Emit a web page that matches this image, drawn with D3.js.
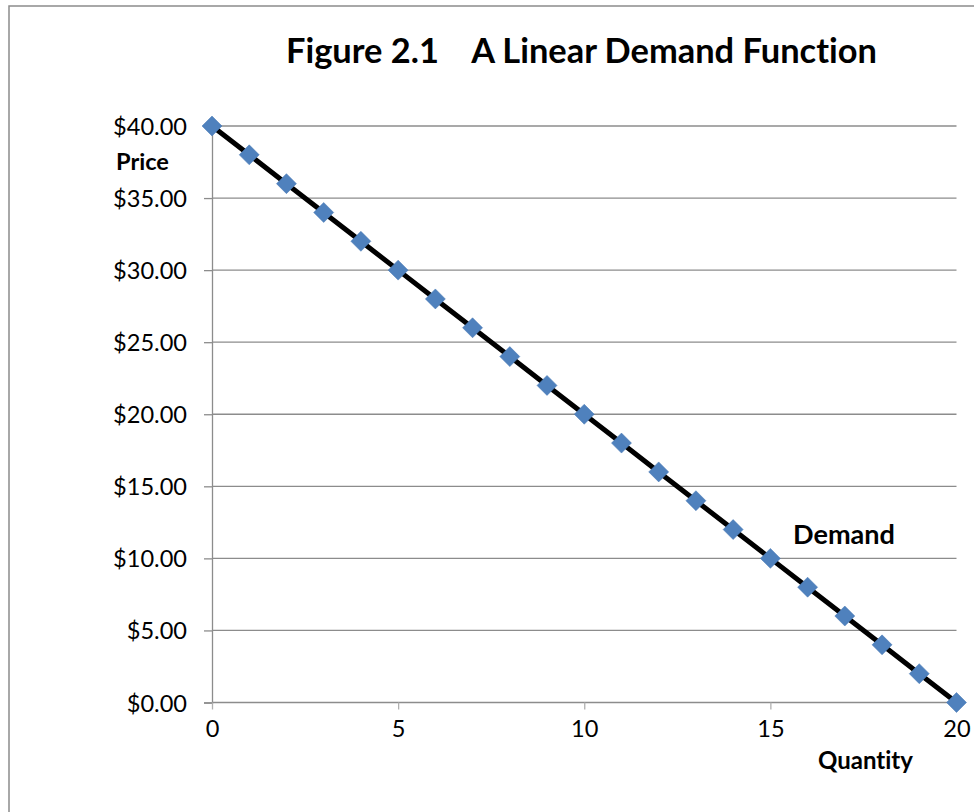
<!DOCTYPE html>
<html><head><meta charset="utf-8">
<script src="https://d3js.org/d3.v7.min.js"></script>
<style>html,body{margin:0;padding:0;background:#fff;} svg{display:block;} text{font-family:Lato,"Open Sans",sans-serif;font-variant-ligatures:none;font-feature-settings:"liga" 0,"clig" 0,"dlig" 0;}</style>
</head><body>
<script>
const quantity = [0,1,2,3,4,5,6,7,8,9,10,11,12,13,14,15,16,17,18,19,20];
const price = [40,38,36,34,32,30,28,26,24,22,20,18,16,14,12,10,8,6,4,2,0];
const xTicks = [0,5,10,15,20];
const yTicks = [0,5,10,15,20,25,30,35,40];
const titleText = "Figure 2.1    A Linear Demand Function";

const W = 974, H = 812;
const FONT = "Lato";
const svg = d3.select("body").append("svg").attr("width", W).attr("height", H);

svg.append("rect").attr("x", 9).attr("y", 6).attr("width", 980).attr("height", 820)
  .attr("fill", "#fff").attr("stroke", "#8c8c8c").attr("stroke-width", 1.5);

const x = d3.scaleLinear().domain([0, 20]).range([212, 956.5]);
const y = d3.scaleLinear().domain([0, 40]).range([702.5, 126]);

svg.append("g").selectAll("line").data(yTicks).join("line")
  .attr("x1", x(0)).attr("x2", x(20)).attr("y1", d => y(d)).attr("y2", d => y(d))
  .attr("stroke", "#8c8c8c").attr("stroke-width", 1.3);

function fitSize(txt, weight, target) {
  const t = svg.append("text").attr("font-family", FONT).attr("font-weight", weight)
    .attr("font-size", 20).style("white-space", "pre").text(txt);
  const w = t.node().getComputedTextLength();
  t.remove();
  return 20 * target / w;
}
const tickFs = fitSize("$40.00", "normal", 74);

const yAxis = d3.axisLeft(y).tickValues(yTicks).tickSize(8).tickPadding(17)
  .tickFormat(d => "$" + d3.format(".2f")(d));
const gy = svg.append("g").attr("transform", `translate(${x(0)},0)`).call(yAxis);
gy.select(".domain").attr("stroke", "#8c8c8c").attr("stroke-width", 1.3);
gy.selectAll(".tick line").attr("stroke", "#8c8c8c").attr("stroke-width", 1.3);
gy.selectAll(".tick text").attr("font-family", FONT).attr("font-size", tickFs).attr("fill", "#000").attr("dy", "0.36em");

const xAxis = d3.axisBottom(x).tickValues(xTicks).tickSize(7).tickPadding(19).tickFormat(d3.format("d"));
const gx = svg.append("g").attr("transform", `translate(0,${y(0)})`).call(xAxis);
gx.select(".domain").remove();
gx.selectAll(".tick line").attr("stroke", "#b0b0b0").attr("stroke-width", 1.3);
gx.selectAll(".tick text").attr("font-family", FONT).attr("font-size", tickFs).attr("fill", "#000").attr("dy", "0.36em");

const line = d3.line().x((d, i) => x(quantity[i])).y(d => y(d));
svg.append("path").datum(price).attr("d", line).attr("fill", "none")
  .attr("stroke", "#000").attr("stroke-width", 5);

const sym = d3.symbol().type(d3.symbolSquare).size(200);
svg.append("g").selectAll("path").data(price).join("path")
  .attr("d", sym)
  .attr("transform", (d, i) => `translate(${x(quantity[i])},${y(d)}) rotate(45)`)
  .attr("fill", "#4f81bd").attr("stroke", "#4a7ab5").attr("stroke-width", 0.5);

function label(txt, xx, yy, target) {
  svg.append("text").attr("x", xx).attr("y", yy).attr("font-family", FONT)
    .attr("font-weight", "bold").attr("font-size", fitSize(txt, "bold", target))
    .attr("fill", "#000").style("white-space", "pre").text(txt);
}
label(titleText, 286, 63, 591);
label("Price", 116, 170, 53);
label("Demand", 793, 544, 102);
label("Quantity", 818, 769, 95);
</script>
</body></html>
